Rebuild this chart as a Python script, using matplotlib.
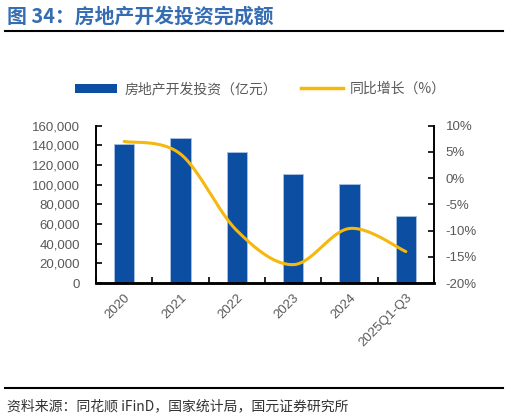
import numpy as np
import matplotlib
matplotlib.use('Agg')
import matplotlib.pyplot as plt
from matplotlib.patches import Patch
from matplotlib.lines import Line2D
from matplotlib.ticker import FuncFormatter

plt.rcParams['font.family'] = ['Liberation Sans', 'Noto Sans CJK SC', 'DejaVu Sans']

# data
categories = ['2020', '2021', '2022', '2023', '2024', '2025Q1-Q3']
investment = [141443, 147602, 132895, 110913, 100280, 67706]   # 亿元
growth = [7.0, 4.6, -10.0, -16.5, -9.6, -14.0]                 # %

bar_color = '#0B4EA2'
line_color = '#F6B80C'
grey = '#595959'
cjk = ['Noto Sans CJK SC', 'DejaVu Sans']


def smooth(xs, ys, n=40):
    # excel style smoothed line: bezier with catmull-rom control points
    xs = np.asarray(xs, float)
    ys = np.asarray(ys, float)
    px = np.concatenate([[xs[0]], xs, [xs[-1]]])
    py = np.concatenate([[ys[0]], ys, [ys[-1]]])
    outx, outy = [], []
    t = np.linspace(0, 1, n)
    for i in range(1, len(px) - 2):
        p0 = np.array([px[i], py[i]])
        p3 = np.array([px[i + 1], py[i + 1]])
        p1 = p0 + (np.array([px[i + 1], py[i + 1]]) - np.array([px[i - 1], py[i - 1]])) / 6
        p2 = p3 - (np.array([px[i + 2], py[i + 2]]) - np.array([px[i], py[i]])) / 6
        b = ((1 - t) ** 3)[:, None] * p0 + (3 * (1 - t) ** 2 * t)[:, None] * p1 \
            + (3 * (1 - t) * t ** 2)[:, None] * p2 + (t ** 3)[:, None] * p3
        outx.extend(b[:, 0])
        outy.extend(b[:, 1])
    return outx, outy


fig = plt.figure(figsize=(5.09, 4.18), dpi=100)
ax = fig.add_axes([96 / 509, 1 - 283 / 418, (434 - 96) / 509, (283 - 125.7) / 418])

x = np.arange(len(categories))
ax.bar(x, investment, width=0.36, color=bar_color, edgecolor='#A9C2E3', linewidth=0.6, zorder=2)
ax.set_xlim(-0.5, len(categories) - 0.5)
ax.set_ylim(0, 160000)
ax.set_yticks(np.arange(0, 160001, 20000))
ax.yaxis.set_major_formatter(FuncFormatter(lambda v, p: f'{int(v):,}'))
ax.set_xticks(x)
ax.set_xticklabels(categories, rotation=45, ha='right', va='top', rotation_mode='anchor')
ax.set_xticks(np.arange(-0.5, len(categories), 1), minor=True)
ax.tick_params(axis='x', which='major', length=0, labelsize=9.5, labelcolor=grey, pad=6)
ax.tick_params(axis='x', which='minor', direction='in', length=4, width=1.2, color='black')
ax.tick_params(axis='y', direction='in', length=4, width=1.2, labelsize=9.5, labelcolor=grey, pad=11.5)

ax2 = ax.twinx()
sx, sy = smooth(x, growth)
ax2.plot(sx, sy, color=line_color, lw=2.2, solid_capstyle='round', zorder=3)
ax2.set_ylim(-20, 10)
ax2.set_yticks(np.arange(-20, 11, 5))
ax2.yaxis.set_major_formatter(FuncFormatter(lambda v, p: f'{int(v)}%'))
ax2.tick_params(axis='y', direction='in', length=4, width=1.2, labelsize=9.5, labelcolor=grey, pad=8.5)

for a in (ax, ax2):
    a.spines['top'].set_visible(False)
    a.spines['left'].set_linewidth(1.2)
    a.spines['right'].set_linewidth(1.2)
    a.spines['bottom'].set_linewidth(1.8)

handles = [Patch(facecolor=bar_color, edgecolor='none'),
           Line2D([0], [0], color=line_color, lw=2.5)]
labels = ['房地产开发投资（亿元）', '同比增长（%）']
leg = fig.legend(handles, labels, loc='center', bbox_to_anchor=(0.5 + 6 / 509, 1 - 89 / 418), ncol=2,
                 frameon=False, handlelength=3.0, handleheight=0.6, columnspacing=1.75,
                 handletextpad=0.5, prop={'family': cjk, 'size': 10})
for t in leg.get_texts():
    t.set_color(grey)

# header and footer
fig.text(7 / 509, 1 - 16 / 418, '图 34：房地产开发投资完成额', fontsize=14.3, fontweight='bold',
         color='#356DB3', va='center', ha='left', family=cjk)
fig.add_artist(Line2D([5 / 509, 503 / 509], [1 - 31 / 418, 1 - 31 / 418], color='black', lw=1.5))
fig.add_artist(Line2D([5 / 509, 503 / 509], [1 - 388 / 418, 1 - 388 / 418], color='black', lw=1.5))
fig.text(7 / 509, 1 - 406 / 418, '资料来源：同花顺 iFinD，国家统计局，国元证券研究所', fontsize=10,
         color='#333333', va='center', ha='left', family=cjk)

fig.savefig('out.png', dpi=100)
